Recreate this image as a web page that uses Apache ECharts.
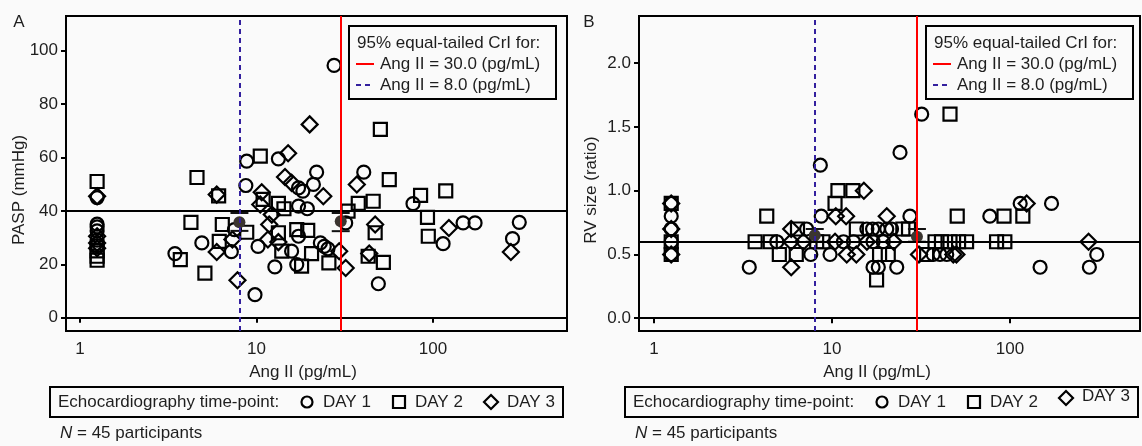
<!DOCTYPE html>
<html>
<head>
<meta charset="utf-8">
<script src="https://cdn.jsdelivr.net/npm/echarts@6/dist/echarts.min.js"></script>
<style>
html,body{margin:0;padding:0;background:#fafafa;}
#main{width:1142px;height:446px;}
</style>
</head>
<body>
<div id="main"></div>
<script>
// tick labels
var xTicks = [1, 10, 100];
var yTicksA = [0, 20, 40, 60, 80, 100];
var yTicksB = [0, 0.5, 1.0, 1.5, 2.0];
var refAng = [30, 8];           // Ang II (pg/mL) for the CrI lines
var refY = [40, 0.6];           // horizontal reference per panel
var dayNames = ['DAY 1', 'DAY 2', 'DAY 3'];

// panel A: PASP (mmHg) vs Ang II
var paspDay1 = [
    [1.25,35],[1.25,34],[1.25,32.5],[1.25,29],[1.25,27],[1.25,45],
    [27.5,94.5],[8.8,58.6],[13.3,59.5],[21.9,54.5],[40.5,54.5],[8.7,49.5],[21,49.9],[17.3,48.6],[18.3,47.4],
    [17.3,41.8],[19.4,40.8],[77,42.7],[32,35.5],[7.5,33],[17.3,30.5],[4.9,28],[3.45,24],[7.2,24.7],[10.2,26.7],
    [15.8,24.9],[23,28],[24.2,26.7],[25.4,25.8],[12.7,19],[16.9,19.9],[49,12.7],[9.8,8.6],[148,35.5],[173,35.5],
    [114,27.7],[308,35.7],[282,29.6]
];
var paspDay2 = [
    [1.25,51],[1.25,25],[1.25,23],[1.25,21.5],
    [10.5,60.5],[4.6,52.5],[6.1,45.6],[13.3,42.8],[14.3,40.8],[10.9,44.3],[4.25,35.7],[6.4,34.9],[8.8,32],
    [13.3,31.8],[16.9,33],[19.5,32.7],[6.15,28.6],[3.7,21.75],[5.1,16.7],[13.9,24.9],[20.5,24],[18,19.3],
    [25.7,20.5],[37.7,42.8],[45.8,43.6],[33,39.9],[56.5,51.7],[50.3,70.5],[47,31.8],[42.9,23],[52.3,20.7],
    [85,45.8],[118,47.5],[93,37.6],[94,30.5]
];
var paspDay3 = [
    [1.25,45.5],[1.25,30.5],[1.25,28],[1.25,26],
    [20,72.4],[15.1,61.6],[14.5,52.7],[15.8,50.5],[23.9,45.5],[37,49.9],[10.7,47],[10.5,42.4],[12.2,38.6],
    [11.8,34.9],[11.6,29.3],[5.95,24.6],[7.8,14],[7.3,29.3],[13.3,28.3],[29.4,24.9],[32,18.6],[47,34.9],
    [43.5,24],[5.95,46.1],[123,33.6],[276,24.6]
];
// [Ang II, mean, lower, upper]
var paspCrI = [[8,35.7,32.5,39.2],[30,36.1,32.4,39.2]];

// panel B: RV size (ratio) vs Ang II
var rvDay1 = [
    [1.25,0.9],[1.25,0.8],[1.25,0.7],[1.25,0.6],[1.25,0.5],
    [8.6,1.2],[31.9,1.6],[24.1,1.3],[171,0.9],[114,0.9],[77,0.8],[27.4,0.8],[8.7,0.8],
    [7.2,0.7],[15.7,0.7],[16.9,0.7],[18.2,0.7],[20.3,0.7],[21.6,0.7],
    [4.9,0.6],[11.6,0.6],[13.2,0.6],[17,0.6],[19.4,0.6],
    [7.6,0.5],[9.75,0.5],[37,0.5],[40.4,0.5],[44.1,0.5],[307,0.5],
    [3.43,0.4],[17,0.4],[18.2,0.4],[23.1,0.4],[147.5,0.4],[279,0.4]
];
var rvDay2 = [
    [1.25,0.9],[1.25,0.6],[1.25,0.5],
    [46,1.6],[10.8,1.0],[13.1,1.0],[10.4,0.9],[4.3,0.8],[50.5,0.8],[92.5,0.8],[118,0.8],
    [6.4,0.7],[13.7,0.7],[25,0.7],[26.9,0.7],
    [3.7,0.6],[4.5,0.6],[8.2,0.6],[8.9,0.6],[37.9,0.6],[41.2,0.6],[46,0.6],[51.4,0.6],[57,0.6],[84,0.6],[93.5,0.6],
    [5.06,0.5],[6.3,0.5],[18.5,0.5],[20.7,0.5],[34,0.5],
    [17.8,0.3]
];
var rvDay3 = [
    [1.25,0.9],[1.25,0.7],[1.25,0.5],
    [15.1,1.0],[10.5,0.8],[12,0.8],[20.3,0.8],[124,0.9],
    [5.9,0.7],[5.9,0.6],[6.9,0.6],[10.4,0.6],[15.7,0.6],[22.2,0.6],[276,0.6],
    [12.1,0.5],[13.7,0.5],[30.8,0.5],[48,0.5],[50,0.5],
    [5.9,0.4]
];
var rvCrI = [[8,0.65,0.6,0.7],[30,0.64,0.6,0.7]];

var FONT = '"Liberation Sans", Arial, sans-serif';
var TXT = '#1e1e1e';

var chart = echarts.init(document.getElementById('main'));

var panels = [
    {left:66, xMin:0.833, xMax:574, yMin:-5, yMax:113, yTicks:yTicksA, dec:0, yName:'PASP (mmHg)',
     days:[paspDay1, paspDay2, paspDay3], crI:paspCrI, label:'A', labelX:19, yNameX:19, xNameX:303, boxX:349, legX:50},
    {left:639, xMin:0.824, xMax:537, yMin:-0.1, yMax:2.37, yTicks:yTicksB, dec:1, yName:'RV size (ratio)',
     days:[rvDay1, rvDay2, rvDay3], crI:rvCrI, label:'B', labelX:589, yNameX:591, xNameX:877, boxX:926, legX:625}
];

var grids = [], xAxes = [], yAxes = [], series = [], graphics = [];
var symbols = ['circle', 'rect', 'diamond'];
var sizes = [13, 13, 16];

panels.forEach(function(p, i){
    grids.push({left:p.left, top:16, width:501, height:315, show:true,
        borderColor:'#000', borderWidth:2, backgroundColor:'#fafafa'});
    xAxes.push({
        type:'log', logBase:10, gridIndex:i, min:p.xMin, max:p.xMax,
        axisLine:{show:true, lineStyle:{color:'#000', width:2}},
        axisTick:{show:true, length:5, customValues:xTicks, lineStyle:{color:'#000', width:2}},
        axisLabel:{customValues:xTicks, fontSize:17, fontFamily:FONT, color:TXT, margin:10},
        splitLine:{show:false}, minorTick:{show:false}
    });
    yAxes.push({
        type:'value', gridIndex:i, min:p.yMin, max:p.yMax,
        axisLine:{show:true, lineStyle:{color:'#000', width:2}},
        axisTick:{show:true, length:5, customValues:p.yTicks, lineStyle:{color:'#000', width:2}},
        axisLabel:{customValues:p.yTicks, fontSize:17, fontFamily:FONT, color:TXT, margin:8,
            formatter:function(v){ return Number(v).toFixed(p.dec); }},
        splitLine:{show:false}
    });
    // reference lines
    series.push({
        type:'line', xAxisIndex:i, yAxisIndex:i, data:[], z:2, silent:true,
        markLine:{
            silent:true, symbol:['none','none'], label:{show:false},
            data:[
                {yAxis:refY[i], lineStyle:{color:'#000', width:2, type:'solid'}},
                {xAxis:refAng[0], lineStyle:{color:'#ff0000', width:2, type:'solid'}},
                {xAxis:refAng[1], lineStyle:{color:'#33209e', width:2, type:[5,4]}}
            ]
        }
    });
    p.days.forEach(function(d, k){
        series.push({
            type:'scatter', name:dayNames[k], xAxisIndex:i, yAxisIndex:i,
            symbol:symbols[k], symbolSize:sizes[k], data:d, z:3,
            itemStyle:{color:'rgba(0,0,0,0)', borderColor:'#000', borderWidth:2.2, opacity:1}
        });
    });
    // posterior mean with 95% CrI caps
    series.push({
        type:'custom', xAxisIndex:i, yAxisIndex:i, data:p.crI, z:4,
        encode:{x:0, y:1},
        renderItem:function(params, api){
            var m = api.coord([api.value(0), api.value(1)]);
            var lo = api.coord([api.value(0), api.value(2)]);
            var hi = api.coord([api.value(0), api.value(3)]);
            var st = {stroke:'#111', lineWidth:2};
            return {type:'group', children:[
                {type:'line', shape:{x1:m[0]-9, y1:lo[1], x2:m[0]+9, y2:lo[1]}, style:st},
                {type:'line', shape:{x1:m[0]-9, y1:hi[1], x2:m[0]+9, y2:hi[1]}, style:st},
                {type:'circle', shape:{cx:m[0], cy:m[1], r:6}, style:{fill:'#3b3530'}}
            ]};
        }
    });

    // texts
    graphics.push({type:'text', x:p.labelX, y:22, style:{text:p.label, font:'17px ' + FONT, fill:TXT, align:'center', verticalAlign:'middle'}});
    graphics.push({type:'text', x:p.yNameX, y:190, rotation:Math.PI/2,
        style:{text:p.yName, font:'17px ' + FONT, fill:TXT, align:'center', verticalAlign:'middle'}});
    graphics.push({type:'text', x:p.xNameX, y:372, style:{text:'Ang II (pg/mL)', font:'17px ' + FONT, fill:TXT, align:'center', verticalAlign:'middle'}});

    // CrI legend inside the plot
    var bx = p.boxX;
    graphics.push({type:'rect', shape:{x:bx, y:26, width:207, height:73}, style:{fill:'#fafafa', stroke:'#000', lineWidth:2}, z:10});
    graphics.push({type:'text', x:bx + 8, y:43, z:11, style:{text:'95% equal-tailed CrI for:', font:'17px ' + FONT, fill:TXT, verticalAlign:'middle'}});
    graphics.push({type:'line', z:11, shape:{x1:bx + 7, y1:64, x2:bx + 25, y2:64}, style:{stroke:'#ff0000', lineWidth:2}});
    graphics.push({type:'text', x:bx + 31, y:64, z:11, style:{text:'Ang II = 30.0 (pg/mL)', font:'17px ' + FONT, fill:TXT, verticalAlign:'middle'}});
    graphics.push({type:'line', z:11, shape:{x1:bx + 7, y1:85, x2:bx + 25, y2:85}, style:{stroke:'#33209e', lineWidth:2, lineDash:[5,4]}});
    graphics.push({type:'text', x:bx + 31, y:85, z:11, style:{text:'Ang II = 8.0 (pg/mL)', font:'17px ' + FONT, fill:TXT, verticalAlign:'middle'}});

    // bottom legend
    var lx = p.legX;
    var ic = {fill:'rgba(0,0,0,0)', stroke:'#000', lineWidth:2.2};
    graphics.push({type:'rect', shape:{x:lx, y:387, width:513, height:30}, style:{fill:'#fafafa', stroke:'#000', lineWidth:2}});
    graphics.push({type:'text', x:lx + 8, y:402, style:{text:'Echocardiography time-point:', font:'17px ' + FONT, fill:TXT, verticalAlign:'middle'}});
    graphics.push({type:'circle', shape:{cx:lx + 257, cy:402, r:5.5}, style:ic});
    graphics.push({type:'text', x:lx + 273, y:402, style:{text:dayNames[0], font:'17px ' + FONT, fill:TXT, verticalAlign:'middle'}});
    graphics.push({type:'rect', shape:{x:lx + 343, y:396, width:12, height:12}, style:ic});
    graphics.push({type:'text', x:lx + 365, y:402, style:{text:dayNames[1], font:'17px ' + FONT, fill:TXT, verticalAlign:'middle'}});
    var dx = lx + 441, dy = i === 1 ? 398 : 402;
    graphics.push({type:'polygon', shape:{points:[[dx, dy - 7],[dx + 7, dy],[dx, dy + 7],[dx - 7, dy]]}, style:ic});
    graphics.push({type:'text', x:lx + 457, y:i === 1 ? 396 : 402, style:{text:dayNames[2], font:'17px ' + FONT, fill:TXT, verticalAlign:'middle'}});
    graphics.push({type:'text', x:lx + 10, y:433, style:{
        text:'{i|N} = 45 participants', font:'17px ' + FONT, fill:TXT, verticalAlign:'middle',
        rich:{i:{fontStyle:'italic', fontSize:17, fontFamily:FONT, fill:TXT}}}});
});

var option = {
    backgroundColor:'#fafafa',
    animation:false,
    grid:grids,
    xAxis:xAxes,
    yAxis:yAxes,
    series:series,
    graphic:graphics
};
chart.setOption(option);
window.addEventListener('resize', function(){
    chart.resize();
});
</script>
</body>
</html>
